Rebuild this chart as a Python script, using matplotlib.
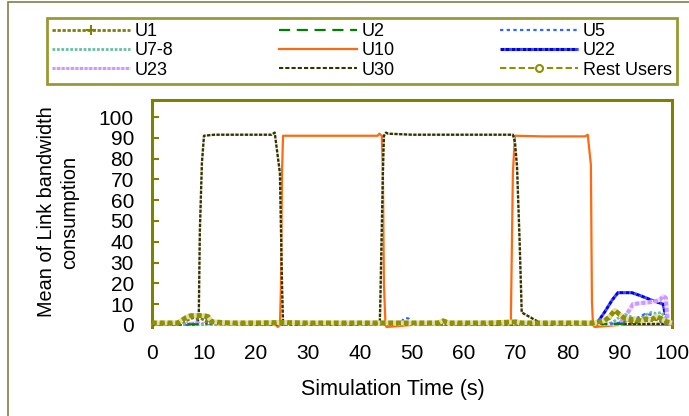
#!/usr/bin/env python
import matplotlib.pyplot as plt
from matplotlib.lines import Line2D
from matplotlib.patches import Rectangle

plt.rcParams['font.family'] = ['Liberation Sans', 'DejaVu Sans']

OLIVE = '#808000'

# ---- data ----
u10_t = [0, 23.8, 24.2, 24.6, 24.8, 25.0, 25.2, 30, 35, 40, 43.4, 43.7, 44.2, 44.4, 44.6, 44.9, 45.1,
         50, 60, 68.8, 69.0, 69.4, 69.8, 75, 80, 83.3, 83.8, 84.4, 84.6, 84.8, 85.1, 90, 100]
u10_v = [0, 0, -1, 0, 18, 73, 91, 91, 91, 91, 91, 92, 91, 73, 20, 0, -1,
         0, 0, 0, 0, 73, 91, 90.7, 90.7, 90.7, 91.5, 77, 12, 0, -1, 0, 0]

u30_t = [0, 5, 8.8, 9.0, 9.2, 9.6, 10.0, 12, 15, 20, 23.0, 23.6, 24.6, 25.0, 25.2, 30, 35, 40,
         43.8, 43.9, 44.4, 44.6, 45.0, 45.4, 50, 55, 60, 65, 69.4, 69.8, 70.2, 70.7, 71.1, 75, 80,
         85, 90, 95, 100]
u30_v = [0.5, 0.5, 1, 5, 45, 78, 91, 91.5, 91.5, 91.5, 91.5, 92.5, 73, 20, 0.5, 0.5, 0.5, 0.5,
         0.5, 10, 73, 91, 92.5, 92, 91.5, 91.5, 91.5, 91.5, 91.5, 88, 76, 40, 6, 0.5, 0.5,
         0.5, 0.5, 0.5, 0.5]

rest_t = [0, 3, 5, 6.5, 7.5, 9, 10, 10.8, 11.5, 15, 20, 25, 30, 35, 40, 45, 50, 55, 56, 57, 60,
          65, 70, 71, 75, 80, 85, 87, 88, 89, 90, 91, 92, 93, 94, 95, 96, 97, 98, 99, 100]
rest_v = [1, 1, 1, 3.5, 4.5, 4.5, 4.5, 4, 1.5, 1, 1, 1.2, 1, 1, 1, 1, 1, 1, 2, 1, 1,
          1, 1.5, 1, 1, 1, 1, 2, 4, 7, 5, 3, 2.5, 3, 2, 3, 2.5, 4, 3, 1.5, 1]

u1_t = [0, 5, 6.5, 8, 9.5, 11, 13, 20, 30, 40, 50, 60, 70, 80, 86, 88, 89, 90, 92, 95, 97, 99, 100]
u1_v = [0.5, 0.5, 2, 3.5, 3, 1, 0.5, 0.5, 0.5, 0.5, 0.5, 0.5, 0.5, 0.5, 0.5, 3, 7, 4, 1.5, 2, 2.5, 1, 0.5]

u2_t = [0, 10, 11, 12.5, 14, 20, 40, 60, 80, 90, 93, 95, 96, 97, 98, 99, 100]
u2_v = [0.3, 0.3, 1, 1.5, 0.5, 0.3, 0.3, 0.3, 0.3, 0.5, 1, 2, 3, 3, 2.5, 1, 0.3]

u5_t = [0, 8, 8.8, 9.3, 10, 11, 20, 40, 47.8, 48.6, 49.4, 50.2, 60, 80, 88, 90, 93, 95, 97, 98, 99, 100]
u5_v = [0, 0, 3, 5, 4, 0.5, 0, 0, 1, 3.5, 3, 0.5, 0, 0, 0.5, 1, 3, 5.5, 4, 1, 0.5, 0]

u78_t = [0, 87, 88, 89, 90, 91, 92, 93, 94, 95, 96, 97, 98, 99, 100]
u78_v = [0.3, 0.3, 0.5, 2, 4, 5, 4, 3, 3.5, 5, 6, 5.5, 6, 2, 0.5]

u22_t = [0, 85, 85.6, 87, 88.5, 89.6, 91, 92.3, 94, 96, 98.3, 98.7, 99.3, 100]
u22_v = [0.5, 0.5, 1, 6, 12, 15.5, 15.5, 15.5, 14, 12, 10, 5, 1, 0.5]

u23_t = [0, 90, 90.6, 91.5, 92.5, 94, 96, 97.7, 98.3, 98.8, 99.2, 100]
u23_v = [0.5, 0.5, 3, 6, 10, 10.5, 11, 12, 14, 13, 1, 0.5]

x_ticks = list(range(0, 101, 10))
y_ticks = list(range(0, 101, 10))

# ---- styles ----
styles = {
    'U1': dict(color=OLIVE, lw=2.0, ls=(0, (1.2, 0.6)), gapcolor='white'),
    'U2': dict(color='#008000', lw=1.6, ls=(0, (5, 3))),
    'U5': dict(color='#3366ff', lw=1.6, ls=(0, (1.5, 1.5))),
    'U7-8': dict(color='#66c0a0', lw=2.0, ls=(0, (1, 0.6)), gapcolor='white'),
    'U10': dict(color='#ff6a10', lw=1.6, ls='-'),
    'U22': dict(color='#0000ee', lw=2.2, ls=(0, (1.2, 0.6)), gapcolor='#3344ff'),
    'U23': dict(color='#cc99ff', lw=3.0, ls=(0, (1, 0.5)), gapcolor='#eeddff'),
    'U30': dict(color='#333300', lw=1.7, ls=(0, (1.4, 0.6)), gapcolor='#e8e8d8'),
    'Rest Users': dict(color='#8f8f00', lw=3.5, ls=(0, (1, 0.6)), gapcolor='#e0e0a0'),
}

fig = plt.figure(figsize=(6.89, 4.16), dpi=100)
ax = fig.add_axes([152 / 689, 1 - 327 / 416, 520 / 689, 227 / 416])

series = [
    ('U10', u10_t, u10_v),
    ('U30', u30_t, u30_v),
    ('U22', u22_t, u22_v),
    ('U23', u23_t, u23_v),
    ('U7-8', u78_t, u78_v),
    ('U5', u5_t, u5_v),
    ('U2', u2_t, u2_v),
    ('U1', u1_t, u1_v),
    ('Rest Users', rest_t, rest_v),
]
for name, t, v in series:
    st = styles[name]
    kw = dict(color=st['color'], lw=st['lw'], ls=st['ls'], clip_on=False, zorder=3)
    if 'gapcolor' in st:
        kw['gapcolor'] = st['gapcolor']
    ax.plot(t, v, **kw)

ax.set_xlim(0, 100)
ax.set_ylim(-1, 108.2)
ax.set_xticks(x_ticks)
ax.set_yticks(y_ticks)
ax.tick_params(axis='x', length=0, pad=12, labelsize=15)
ax.tick_params(axis='y', direction='in', length=5, width=1.5, color=OLIVE, pad=13, labelsize=15)
for s in ['left', 'top', 'right']:
    ax.spines[s].set_color(OLIVE)
    ax.spines[s].set_linewidth(2.2)
ax.spines['bottom'].set_visible(False)

fig.text(393 / 689, 1 - 389 / 416, 'Simulation Time (s)', ha='center', va='center', fontsize=15.5)
fig.text(58 / 689, 1 - 212 / 416, 'Mean of Link bandwidth\nconsumption', ha='center', va='center',
         rotation=90, fontsize=14.3, multialignment='center', linespacing=1.25)

# legend, filled column by column to get row order U1 U2 U5 / U7-8 U10 U22 / U23 U30 Rest
order = ['U1', 'U7-8', 'U23', 'U2', 'U10', 'U30', 'U5', 'U22', 'Rest Users']
handles = []
for name in order:
    st = styles[name]
    kw = dict(color=st['color'], lw=min(st['lw'], 2.2), ls=st['ls'])
    if 'gapcolor' in st:
        kw['gapcolor'] = st['gapcolor']
    if name == 'U1':
        kw.update(marker='+', markersize=7, markeredgewidth=1.5)
    if name == 'U30':
        kw.update(lw=1.5, ls=(0, (2, 1)), gapcolor=None)
    if name == 'Rest Users':
        kw.update(lw=1.5, ls=(0, (3, 1.5)), gapcolor=None, marker='o', markersize=5,
                  markerfacecolor='white', markeredgewidth=1.5)
    handles.append(Line2D([], [], label=name, **kw))

leg = fig.legend(handles=handles, ncol=3, loc='lower left', mode='expand',
                 bbox_to_anchor=(47 / 689, 1 - 84 / 416, 630 / 689, 64 / 416),
                 borderaxespad=0, fontsize=13, handlelength=4.3, handletextpad=0.25,
                 numpoints=1, frameon=True, fancybox=False, labelspacing=0.12,
                 borderpad=0.3)
leg.get_frame().set_edgecolor(OLIVE)
leg.get_frame().set_linewidth(2)

fig.patches.append(Rectangle((8 / 689, -0.1), 1.0, 1.1 - 2 / 416, transform=fig.transFigure,
                             fill=False, edgecolor='#80804a', lw=1.2))

fig.savefig('out.png', dpi=100)
